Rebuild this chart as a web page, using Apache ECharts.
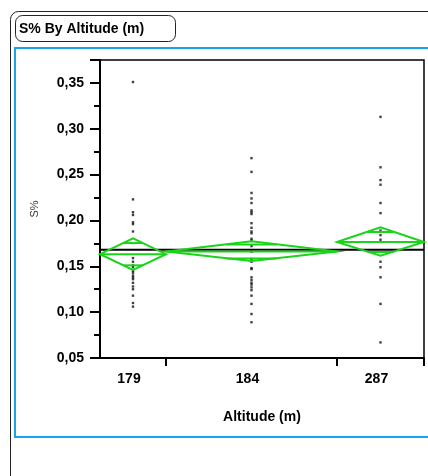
<!DOCTYPE html>
<html>
<head>
<meta charset="utf-8">
<script src="https://cdn.jsdelivr.net/npm/echarts@6/dist/echarts.min.js"></script>
<style>
  html, body { margin: 0; padding: 0; background: #fff; }
  #chart { width: 428px; height: 476px; }
</style>
</head>
<body>
<div id="chart"></div>
<script>
// Groups along the x axis and their sample sizes (x widths are proportional to n)
const altitudes = ['179', '184', '287'];
const groupSizes = [22, 57, 29];

// S% observations per altitude group
const s179 = [0.351, 0.223, 0.209, 0.206, 0.198, 0.196, 0.188, 0.159, 0.155, 0.151, 0.149,
              0.145, 0.143, 0.140, 0.138, 0.136, 0.132, 0.128, 0.125, 0.118, 0.110, 0.106];
const s184 = [0.268, 0.253, 0.230, 0.224, 0.219, 0.211, 0.209, 0.207, 0.197, 0.192, 0.188,
              0.186, 0.180, 0.178, 0.172, 0.166, 0.158, 0.155, 0.148, 0.147, 0.138, 0.135,
              0.132, 0.130, 0.127, 0.124, 0.118, 0.109, 0.098, 0.089];
const s287 = [0.313, 0.258, 0.244, 0.239, 0.219, 0.208, 0.189, 0.184, 0.179, 0.155, 0.149,
              0.138, 0.109, 0.067];

// Means diamonds: group mean and 95% confidence limits
const groupMeans = [0.1632, 0.1662, 0.1765];
const ciLower = [0.1462, 0.1558, 0.1616];
const ciUpper = [0.1806, 0.1772, 0.1925];
const grandMean = 0.1680;

// Y axis ticks
const yMin = 0.05, yMax = 0.375, yStep = 0.05;

// Derived x layout: group boundaries and centres on a value axis
const bounds = [0];
groupSizes.forEach(n => bounds.push(bounds[bounds.length - 1] + n));
const centers = groupSizes.map((n, i) => bounds[i] + n / 2);
const total = bounds[bounds.length - 1];

const groupsData = [s179, s184, s287];
const points = [];
groupsData.forEach((arr, i) => arr.forEach(v => points.push([centers[i], v])));

const diamondData = altitudes.map((a, i) => [bounds[i], bounds[i + 1], groupMeans[i], ciLower[i], ciUpper[i]]);

const FONT = '"Liberation Sans", Arial, sans-serif';
const GREEN = '#19d419';
const BLUE = '#1aa3e6';

const chart = echarts.init(document.getElementById('chart'), null, { renderer: 'canvas' });

chart.setOption({
  animation: false,
  backgroundColor: '#fff',
  grid: {
    left: 100, top: 60, right: 4, bottom: 118,
    show: true, borderColor: '#000', borderWidth: 1.5, backgroundColor: '#fff'
  },
  graphic: [
    { type: 'rect', shape: { x: 10.5, y: 11.5, width: 460, height: 520, r: 8 },
      style: { fill: 'none', stroke: '#222', lineWidth: 1 }, silent: true, z: -1 },
    { type: 'rect', shape: { x: 15.5, y: 15.5, width: 160, height: 26, r: 7 },
      style: { fill: '#fff', stroke: '#222', lineWidth: 1 }, silent: true },
    { type: 'text', x: 19, y: 29,
      style: { text: 'S% By Altitude (m)', font: 'bold 14px ' + FONT, fill: '#000', verticalAlign: 'middle' } },
    { type: 'rect', shape: { x: 15, y: 48, width: 460, height: 389 },
      style: { fill: 'none', stroke: BLUE, lineWidth: 2 }, silent: true }
  ],
  xAxis: {
    type: 'value', min: 0, max: total,
    splitLine: { show: false },
    axisLine: { show: true, onZero: false, lineStyle: { color: '#000', width: 2 } },
    axisTick: { show: true, length: 8, customValues: bounds.slice(1), lineStyle: { color: '#000', width: 2 } },
    axisLabel: {
      customValues: centers,
      formatter: v => { const i = centers.findIndex(c => Math.abs(c - v) < 1e-6); return i >= 0 ? altitudes[i] : ''; },
      color: '#000', fontFamily: FONT, fontWeight: 'bold', fontSize: 14, margin: 14,
      padding: [0, 8, 0, 0]
    },
    name: 'Altitude (m)', nameLocation: 'middle', nameGap: 52,
    nameTextStyle: { color: '#000', fontFamily: FONT, fontWeight: 'bold', fontSize: 14 }
  },
  yAxis: {
    type: 'value', min: yMin, max: yMax, interval: yStep,
    splitLine: { show: false },
    axisLine: { show: true, lineStyle: { color: '#000', width: 2 } },
    axisTick: { show: true, length: 10, lineStyle: { color: '#000', width: 2 } },
    minorTick: { show: true, splitNumber: 2, length: 6, lineStyle: { color: '#000', width: 2 } },
    axisLabel: {
      formatter: v => v.toFixed(2).replace('.', ','),
      showMaxLabel: false,
      color: '#000', fontFamily: FONT, fontWeight: 'bold', fontSize: 14, margin: 16
    },
    name: 'S%', nameLocation: 'middle', nameGap: 60, nameRotate: 90,
    nameTextStyle: { color: '#333', fontFamily: FONT, fontSize: 11 }
  },
  series: [
    {
      type: 'scatter', data: points, symbol: 'rect', symbolSize: 2.4,
      itemStyle: { color: '#111' }, z: 3
    },
    {
      // grand mean across all groups
      type: 'line', data: [[0, grandMean], [total, grandMean]], symbol: 'none',
      lineStyle: { color: '#000', width: 2 }, z: 4
    },
    {
      type: 'custom', data: diamondData, z: 5,
      renderItem: (params, api) => {
        const x0 = api.value(0), x1 = api.value(1), m = api.value(2), lo = api.value(3), hi = api.value(4);
        const xc = (x0 + x1) / 2;
        const L = api.coord([x0, m]), R = api.coord([x1, m]);
        const T = api.coord([xc, hi]), B = api.coord([xc, lo]);
        const half = (hi - lo) / 2;
        const ov = half / Math.SQRT2;
        const frac = 1 - ov / half;        // diamond width fraction at overlap-mark height
        const w = (x1 - x0) / 2 * frac;
        const ovHi = [api.coord([xc - w, m + ov]), api.coord([xc + w, m + ov])];
        const ovLo = [api.coord([xc - w, m - ov]), api.coord([xc + w, m - ov])];
        const st = { stroke: GREEN, lineWidth: 2, fill: 'none' };
        return {
          type: 'group',
          children: [
            { type: 'polygon', shape: { points: [L, T, R, B] }, style: st },
            { type: 'line', shape: { x1: L[0], y1: L[1], x2: R[0], y2: R[1] }, style: st },
            { type: 'line', shape: { x1: ovHi[0][0], y1: ovHi[0][1], x2: ovHi[1][0], y2: ovHi[1][1] }, style: st },
            { type: 'line', shape: { x1: ovLo[0][0], y1: ovLo[0][1], x2: ovLo[1][0], y2: ovLo[1][1] }, style: st }
          ]
        };
      }
    }
  ]
});
</script>
</body>
</html>
